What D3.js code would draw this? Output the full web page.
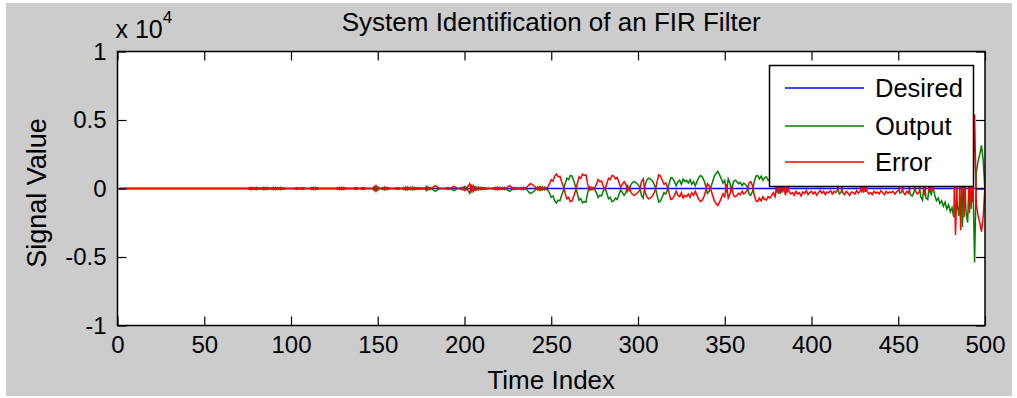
<!DOCTYPE html>
<html>
<head>
<meta charset="utf-8">
<script src="https://cdn.jsdelivr.net/npm/d3@7"></script>
<style>
body { margin: 0; background: #ffffff; }
text { font-family: Arial, "Liberation Sans", sans-serif; fill: #000; }
</style>
</head>
<body>
<svg id="chart" width="1017" height="398"></svg>
<script>
// Sample index of the adaptive filter run (1..500)
var timeIndex = d3.range(1, 501);

// Desired signal stays at zero for the whole run
var desiredVals = [
    0,0,0,0,0,0,0,0,0,0, 0,0,0,0,0,0,0,0,0,0, 0,0,0,0,0,0,0,0,0,0, 0,0,0,0,0,0,0,0,0,0, 0,0,0,0,0,0,0,0,0,0,
    0,0,0,0,0,0,0,0,0,0, 0,0,0,0,0,0,0,0,0,0, 0,0,0,0,0,0,0,0,0,0, 0,0,0,0,0,0,0,0,0,0, 0,0,0,0,0,0,0,0,0,0,
    0,0,0,0,0,0,0,0,0,0, 0,0,0,0,0,0,0,0,0,0, 0,0,0,0,0,0,0,0,0,0, 0,0,0,0,0,0,0,0,0,0, 0,0,0,0,0,0,0,0,0,0,
    0,0,0,0,0,0,0,0,0,0, 0,0,0,0,0,0,0,0,0,0, 0,0,0,0,0,0,0,0,0,0, 0,0,0,0,0,0,0,0,0,0, 0,0,0,0,0,0,0,0,0,0,
    0,0,0,0,0,0,0,0,0,0, 0,0,0,0,0,0,0,0,0,0, 0,0,0,0,0,0,0,0,0,0, 0,0,0,0,0,0,0,0,0,0, 0,0,0,0,0,0,0,0,0,0,
    0,0,0,0,0,0,0,0,0,0, 0,0,0,0,0,0,0,0,0,0, 0,0,0,0,0,0,0,0,0,0, 0,0,0,0,0,0,0,0,0,0, 0,0,0,0,0,0,0,0,0,0,
    0,0,0,0,0,0,0,0,0,0, 0,0,0,0,0,0,0,0,0,0, 0,0,0,0,0,0,0,0,0,0, 0,0,0,0,0,0,0,0,0,0, 0,0,0,0,0,0,0,0,0,0,
    0,0,0,0,0,0,0,0,0,0, 0,0,0,0,0,0,0,0,0,0, 0,0,0,0,0,0,0,0,0,0, 0,0,0,0,0,0,0,0,0,0, 0,0,0,0,0,0,0,0,0,0,
    0,0,0,0,0,0,0,0,0,0, 0,0,0,0,0,0,0,0,0,0, 0,0,0,0,0,0,0,0,0,0, 0,0,0,0,0,0,0,0,0,0, 0,0,0,0,0,0,0,0,0,0,
    0,0,0,0,0,0,0,0,0,0, 0,0,0,0,0,0,0,0,0,0, 0,0,0,0,0,0,0,0,0,0, 0,0,0,0,0,0,0,0,0,0, 0,0,0,0,0,0,0,0,0,0
];

// Filter output
var outputVals = [
    0,0,0,0,0,0,0,0,0,0,
    0,0,0,0,0,0,0,0,0,0,
    0,0,0,0,0,0,0,0,0,0,
    0,0,0,0,0,0,0,0,0,0,
    0,0,0,0,0,0,0,0,0,0,
    0,0,0,0,0,0,0,0,0,0,
    0,0,0,0,0,0,0,0,0,0,
    0,0,0,0,0,60,-80,60,-60,80,
    -60,40,-60,80,-80,60,-60,0,60,-80,
    80,-60,60,-80,60,-40,0,0,0,0,
    0,0,60,-60,0,60,-60,0,0,0,
    0,80,-80,80,-60,0,0,0,0,0,
    0,0,0,0,0,0,80,-80,80,-80,
    60,0,0,0,0,0,60,-60,0,0,
    60,-60,0,0,0,0,0,-150,200,-120,
    0,0,80,-100,80,-60,0,0,0,0,
    60,-60,0,0,80,-100,100,-80,80,-100,
    80,-60,60,-60,40,-40,0,-150,100,-80,
    0,-100,-200,-150,-50,0,0,0,0,60,
    -60,0,-100,-150,-80,0,0,80,-100,150,
    100,-150,-350,300,-200,150,100,-100,80,-80,
    60,-50,0,0,0,0,60,-80,100,-80,
    60,-60,80,-60,-120,-200,-100,80,-60,60,
    0,60,-80,80,-40,-100,-250,-350,-300,-200,
    -80,100,-120,120,-100,100,-80,-100,-350,-650,
    -550,-900,-1050,-850,-900,-500,-150,350,750,650,
    950,900,550,150,-350,-850,-750,-1050,-950,-1000,
    -300,100,-100,80,-50,-300,-650,-500,-550,-150,
    60,-350,-750,-650,-950,-900,-700,-800,-450,-100,
    -300,-500,-300,200,-100,300,450,500,400,300,
    100,-500,-700,200,600,750,700,600,400,100,
    -500,-1000,-900,-600,-300,-400,-100,400,800,750,
    500,200,500,600,300,700,500,600,400,650,
    300,500,200,500,800,950,850,600,200,-350,
    -200,100,500,900,1100,1250,1000,700,400,600,
    -300,700,400,-200,500,600,500,350,450,200,
    400,300,100,-400,-500,-200,500,900,950,700,
    900,600,800,850,600,700,500,300,600,-300,
    400,-400,300,-200,500,-300,200,400,300,500,
    200,400,300,550,250,350,150,450,300,200,
    400,250,500,300,150,350,200,450,250,300,
    150,400,200,300,100,-400,-300,300,450,200,
    350,500,250,300,400,150,350,200,-200,300,
    -250,200,400,300,450,200,350,250,400,150,
    300,450,200,350,250,300,200,400,250,150,
    -350,-250,300,450,200,350,-450,-550,-300,200,
    400,300,-600,-850,500,-700,-800,300,-500,200,
    -500,-900,-700,-1100,-900,-1300,-1000,-1500,-1200,-1700,
    -1400,-2100,3400,-1200,-2000,3050,-2800,2100,-1600,-2500,
    1800,-1500,1000,-5400,1200,2000,2500,3150,2000,-300
];

// Error = desired - output
var errorVals = [
    0,0,0,0,0,0,0,0,0,0,
    0,0,0,0,0,0,0,0,0,0,
    0,0,0,0,0,0,0,0,0,0,
    0,0,0,0,0,0,0,0,0,0,
    0,0,0,0,0,0,0,0,0,0,
    0,0,0,0,0,0,0,0,0,0,
    0,0,0,0,0,0,0,0,0,0,
    0,0,0,0,0,-60,80,-60,60,-80,
    60,-40,60,-80,80,-60,60,0,-60,80,
    -80,60,-60,80,-60,40,0,0,0,0,
    0,0,-60,60,0,-60,60,0,0,0,
    0,-80,80,-80,60,0,0,0,0,0,
    0,0,0,0,0,0,-80,80,-80,80,
    -60,0,0,0,0,0,-60,60,0,0,
    -60,60,0,0,0,0,0,150,-200,120,
    0,0,-80,100,-80,60,0,0,0,0,
    -60,60,0,0,-80,100,-100,80,-80,100,
    -80,60,-60,60,-40,40,0,150,-100,80,
    0,100,200,150,50,0,0,0,0,-60,
    60,0,100,150,80,0,0,-80,100,-150,
    -100,150,350,-300,200,-150,-100,100,-80,80,
    -60,50,0,0,0,0,-60,80,-100,80,
    -60,60,-80,60,120,200,100,-80,60,-60,
    0,-60,80,-80,40,100,250,350,300,200,
    80,-100,120,-120,100,-100,80,100,350,650,
    550,900,1050,850,900,500,150,-350,-750,-650,
    -950,-900,-550,-150,350,850,750,1050,950,1000,
    300,-100,100,-80,50,300,650,500,550,150,
    -60,350,750,650,950,900,700,800,450,100,
    300,500,300,-200,100,-300,-450,-500,-400,-300,
    -100,500,700,-200,-600,-750,-700,-600,-400,-100,
    500,1000,900,600,300,400,100,-400,-800,-750,
    -500,-200,-500,-600,-300,-700,-500,-600,-400,-650,
    -300,-500,-200,-500,-800,-950,-850,-600,-200,350,
    200,-100,-500,-900,-1100,-1250,-1000,-700,-400,-600,
    300,-700,-400,200,-500,-600,-500,-350,-450,-200,
    -400,-300,-100,400,500,200,-500,-900,-950,-700,
    -900,-600,-800,-850,-600,-700,-500,-300,-600,300,
    -400,400,-300,200,-500,300,-200,-400,-300,-500,
    -200,-400,-300,-550,-250,-350,-150,-450,-300,-200,
    -400,-250,-500,-300,-150,-350,-200,-450,-250,-300,
    -150,-400,-200,-300,-100,400,300,-300,-450,-200,
    -350,-500,-250,-300,-400,-150,-350,-200,200,-300,
    250,-200,-400,-300,-450,-200,-350,-250,-400,-150,
    -300,-450,-200,-350,-250,-300,-200,-400,-250,-150,
    350,250,-300,-450,-200,-350,450,550,300,-200,
    -400,-300,600,850,-500,700,800,-300,500,-200,
    500,900,700,1100,900,1300,1000,1500,1200,1700,
    1400,2100,-3400,1200,2000,-3050,2800,-2100,1600,2500,
    -1800,1500,-1000,5400,-1200,-2000,-2500,-3150,-2000,300
];

var xTicks = [0, 50, 100, 150, 200, 250, 300, 350, 400, 450, 500];
var yTicks = [-10000, -5000, 0, 5000, 10000];
var yTickLabels = ["-1", "-0.5", "0", "0.5", "1"];

var seriesNames = ["Desired", "Output", "Error"];
var seriesColors = ["#0000ff", "#008000", "#ff0000"];

var svg = d3.select("#chart");

// Figure background (matlab grey)
svg.append("rect")
    .attr("x", 6).attr("y", 3)
    .attr("width", 1006).attr("height", 393)
    .attr("fill", "#cccccc");

var plotLeft = 117.5, plotRight = 985, plotTop = 51.5, plotBottom = 325.5;

var x = d3.scaleLinear().domain([0, 500]).range([plotLeft, plotRight]);
var y = d3.scaleLinear().domain([-10000, 10000]).range([plotBottom, plotTop]);

// Axes area
svg.append("rect")
    .attr("x", plotLeft).attr("y", plotTop)
    .attr("width", plotRight - plotLeft).attr("height", plotBottom - plotTop)
    .attr("fill", "#ffffff");

svg.append("clipPath").attr("id", "plotClip")
    .append("rect")
    .attr("x", plotLeft).attr("y", plotTop)
    .attr("width", plotRight - plotLeft).attr("height", plotBottom - plotTop);

var line = d3.line()
    .x(function(d, i) { return x(timeIndex[i]); })
    .y(function(d) { return y(d); });

var allSeries = [desiredVals, outputVals, errorVals];
var plot = svg.append("g").attr("clip-path", "url(#plotClip)");
for (var s = 0; s < allSeries.length; s++) {
    plot.append("path")
        .datum(allSeries[s])
        .attr("d", line)
        .attr("fill", "none")
        .attr("stroke", seriesColors[s])
        .attr("stroke-width", 1.5);
}

// Ticks pointing inwards on all four sides
var tickLen = 9;
var xAxis = svg.append("g")
    .attr("transform", "translate(0," + plotBottom + ")")
    .call(d3.axisBottom(x).tickValues(xTicks).tickSize(-tickLen).tickSizeOuter(0).tickPadding(10));
var xTop = svg.append("g")
    .attr("transform", "translate(0," + plotTop + ")")
    .call(d3.axisTop(x).tickValues(xTicks).tickSize(-tickLen).tickSizeOuter(0).tickFormat(""));
var yAxis = svg.append("g")
    .attr("transform", "translate(" + plotLeft + ",0)")
    .call(d3.axisLeft(y).tickValues(yTicks).tickSize(-tickLen).tickSizeOuter(0).tickPadding(11)
        .tickFormat(function(d, i) { return yTickLabels[i]; }));
var yRight = svg.append("g")
    .attr("transform", "translate(" + plotRight + ",0)")
    .call(d3.axisRight(y).tickValues(yTicks).tickSize(-tickLen).tickSizeOuter(0).tickFormat(""));

[xAxis, xTop, yAxis, yRight].forEach(function(g) {
    g.select(".domain").remove();
    g.selectAll("line").attr("stroke", "#000").attr("stroke-width", 1.2);
    g.selectAll("text").attr("font-size", 24).attr("font-family", "Arial, 'Liberation Sans', sans-serif").attr("fill", "#000");
});

// Box around the axes
svg.append("rect")
    .attr("x", plotLeft).attr("y", plotTop)
    .attr("width", plotRight - plotLeft).attr("height", plotBottom - plotTop)
    .attr("fill", "none")
    .attr("stroke", "#000")
    .attr("stroke-width", 1.5);

// Title and labels
svg.append("text")
    .attr("x", (plotLeft + plotRight) / 2).attr("y", 31)
    .attr("text-anchor", "middle")
    .attr("font-size", 26)
    .text("System Identification of an FIR Filter");

svg.append("text")
    .attr("x", (plotLeft + plotRight) / 2).attr("y", 389)
    .attr("text-anchor", "middle")
    .attr("font-size", 26)
    .text("Time Index");

svg.append("text")
    .attr("transform", "translate(46,193) rotate(-90)")
    .attr("text-anchor", "middle")
    .attr("font-size", 27)
    .text("Signal Value");

// Exponent marker
var expo = svg.append("text")
    .attr("x", plotLeft - 2).attr("y", 38)
    .attr("font-size", 25)
    .text("x 10");
expo.append("tspan")
    .attr("dy", -15)
    .attr("font-size", 17)
    .text("4");

// Legend
var legend = svg.append("g");
legend.append("rect")
    .attr("x", 769.5).attr("y", 65.5)
    .attr("width", 204).attr("height", 121)
    .attr("fill", "#ffffff")
    .attr("stroke", "#000")
    .attr("stroke-width", 1.5);
var legendY = [88, 126, 162];
for (var k = 0; k < seriesNames.length; k++) {
    legend.append("line")
        .attr("x1", 785).attr("x2", 864)
        .attr("y1", legendY[k]).attr("y2", legendY[k])
        .attr("stroke", seriesColors[k])
        .attr("stroke-width", 1.5);
    legend.append("text")
        .attr("x", 875).attr("y", legendY[k])
        .attr("dy", "0.36em")
        .attr("font-size", 25.5)
        .text(seriesNames[k]);
}
</script>
</body>
</html>
